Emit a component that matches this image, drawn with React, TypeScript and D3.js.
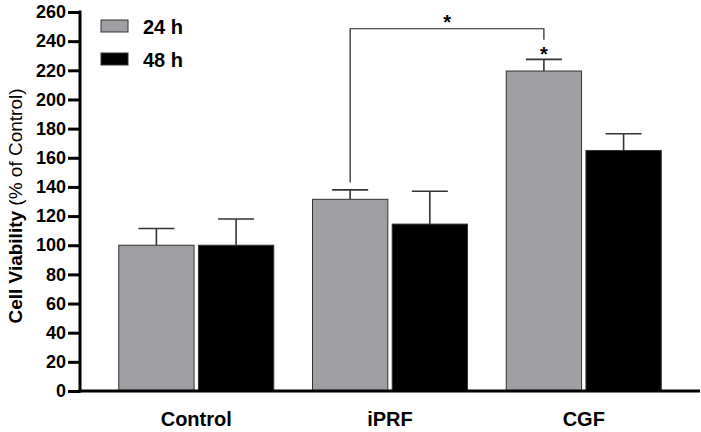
import React, { useEffect, useRef } from "react";
import * as d3 from "d3";

const groups = ["Control", "iPRF", "CGF"];
const seriesNames = ["24 h", "48 h"];
const mean24 = [100, 131.5, 219.5];
const err24 = [11.5, 6.5, 8];
const mean48 = [100, 114.5, 165];
const err48 = [18, 22.5, 11.5];
const yTicks = [0, 20, 40, 60, 80, 100, 120, 140, 160, 180, 200, 220, 240, 260];

const App = () => {
  const ref = useRef<SVGSVGElement>(null);

  useEffect(() => {
    const svg = d3.select(ref.current);
    svg.selectAll("*").remove();

    const W = 701;
    const H = 432;
    const left = 80;
    const bottom = 391;
    const top = 12;
    const font = "'Liberation Sans', Arial, sans-serif";
    const fills = ["#a09fa4", "#000000"];

    const y = d3.scaleLinear().domain([0, 260]).range([bottom, top]);
    const x0 = d3
      .scaleBand()
      .domain(groups)
      .range([left, 700])
      .paddingInner(0.2)
      .paddingOuter(0.2);
    const x1 = d3
      .scaleBand()
      .domain(seriesNames)
      .range([0, x0.bandwidth()])
      .paddingInner(0.055);

    svg.attr("width", W).attr("height", H);

    const rows = groups.flatMap((g, i) => [
      { group: g, key: seriesNames[0], value: mean24[i], err: err24[i] },
      { group: g, key: seriesNames[1], value: mean48[i], err: err48[i] },
    ]);

    // bars
    const bars = svg.append("g");
    bars
      .selectAll("rect")
      .data(rows)
      .join("rect")
      .attr("x", (d) => x0(d.group)! + x1(d.key)!)
      .attr("y", (d) => y(d.value))
      .attr("width", x1.bandwidth())
      .attr("height", (d) => bottom - y(d.value))
      .attr("fill", (d) => fills[seriesNames.indexOf(d.key)])
      .attr("stroke", "#333")
      .attr("stroke-width", 1);

    // upper error bars
    const errs = svg.append("g").attr("stroke", "#333").attr("stroke-width", 1.6);
    rows.forEach((d) => {
      const cx = x0(d.group)! + x1(d.key)! + x1.bandwidth() / 2;
      errs
        .append("line")
        .attr("x1", cx)
        .attr("x2", cx)
        .attr("y1", y(d.value))
        .attr("y2", y(d.value + d.err));
      errs
        .append("line")
        .attr("x1", cx - 18)
        .attr("x2", cx + 18)
        .attr("y1", y(d.value + d.err))
        .attr("y2", y(d.value + d.err));
    });

    // significance bracket iPRF 24 h vs CGF 24 h
    const bx1 = x0("iPRF")! + x1("24 h")! + x1.bandwidth() / 2;
    const bx2 = x0("CGF")! + x1("24 h")! + x1.bandwidth() / 2;
    svg
      .append("path")
      .attr("d", `M${bx1},${y(143)}V${y(248.5)}H${bx2}V${y(241)}`)
      .attr("fill", "none")
      .attr("stroke", "#222")
      .attr("stroke-width", 1.2);
    svg
      .append("text")
      .attr("x", (bx1 + bx2) / 2)
      .attr("y", y(248.5))
      .attr("text-anchor", "middle")
      .attr("font-family", font)
      .attr("font-size", 20)
      .attr("font-weight", "bold")
      .text("*");
    svg
      .append("text")
      .attr("x", bx2)
      .attr("y", y(mean24[2] + err24[2]) + 2)
      .attr("text-anchor", "middle")
      .attr("font-family", font)
      .attr("font-size", 20)
      .attr("font-weight", "bold")
      .text("*");

    // y axis
    const yAxis = svg
      .append("g")
      .attr("transform", `translate(${left},0)`)
      .call(d3.axisLeft(y).tickValues(yTicks).tickSize(12).tickPadding(2));
    yAxis.select(".domain").attr("stroke-width", 3).attr("d", `M0,${top - 1.5}V${bottom + 1.5}`);
    yAxis.selectAll(".tick line").attr("stroke-width", 3);
    yAxis
      .selectAll(".tick text")
      .attr("font-family", font)
      .attr("font-size", 18)
      .attr("font-weight", "bold")
      .attr("fill", "#000");

    // x axis
    const xAxis = svg
      .append("g")
      .attr("transform", `translate(0,${bottom})`)
      .call(d3.axisBottom(x0).tickSize(0).tickPadding(21));
    xAxis.select(".domain").attr("stroke-width", 3).attr("d", `M${left - 1.5},0H700`);
    xAxis
      .selectAll(".tick text")
      .attr("font-family", font)
      .attr("font-size", 20)
      .attr("font-weight", "bold")
      .attr("fill", "#000");

    // y title
    const title = svg
      .append("text")
      .attr("transform", `translate(22,206) rotate(-90)`)
      .attr("text-anchor", "middle")
      .attr("font-family", font)
      .attr("font-size", 19);
    title.append("tspan").attr("font-weight", "bold").text("Cell Viability ");
    title.append("tspan").text("(% of Control)");

    // legend
    const legend = svg
      .selectAll(".legend")
      .data(seriesNames)
      .join("g")
      .attr("transform", (d, i) => `translate(101,${20 + i * 33})`);
    legend
      .append("rect")
      .attr("width", 27)
      .attr("height", 12)
      .attr("fill", (d, i) => fills[i])
      .attr("stroke", "#333")
      .attr("stroke-width", 1);
    legend
      .append("text")
      .attr("x", 42)
      .attr("y", 14)
      .attr("font-family", font)
      .attr("font-size", 20)
      .attr("font-weight", "bold")
      .text((d) => d);
  }, []);

  return (
    <svg
      ref={ref}
      style={{ position: "absolute", left: 0, top: 0, background: "#fff" }}
    ></svg>
  );
};

export default App;
